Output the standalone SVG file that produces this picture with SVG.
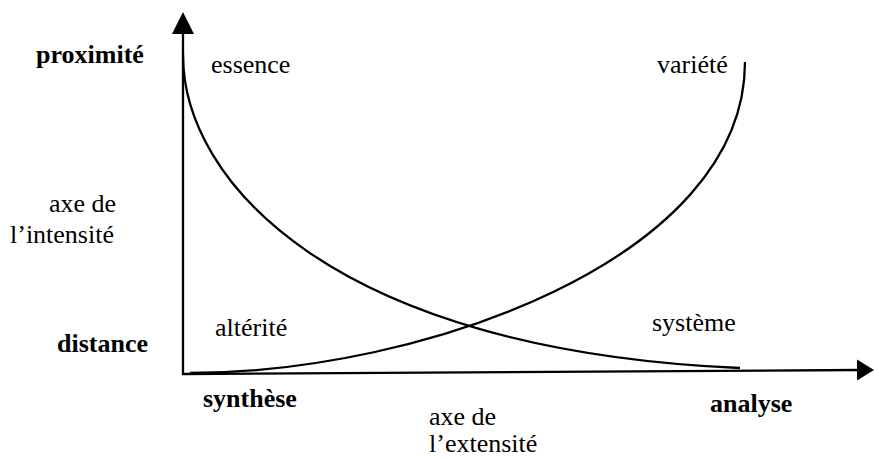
<svg xmlns="http://www.w3.org/2000/svg" width="874" height="459" viewBox="0 0 874 459">
<defs>
<style>
text{font-family:'Liberation Serif','DejaVu Serif',serif;font-size:26px;fill:#000}
.b{font-weight:bold}
.ln{fill:none;stroke:#000;stroke-width:2.3}
</style>
</defs>
<rect width="874" height="459" fill="#fff"/>
<g id="axes">
<line class="ln" x1="183" y1="375" x2="183" y2="30"/>
<polygon points="183,12 172,34 194,34" fill="#000"/>
<line class="ln" x1="182" y1="374" x2="860" y2="370"/>
<polygon points="874,370 857,359.5 857,380.5" fill="#000"/>
</g>
<g id="connectors">
<path id="curve-essence" class="ln" d="M183,55 C183,180 330,350 740,368"/>
<path id="curve-variete" class="ln" d="M190,373 C420,373 745,260 745,62"/>
</g>
<g id="labels" font-family="Liberation Serif, DejaVu Serif, serif">
<text class="b" x="36" y="63">proximité</text>
<text x="211" y="73">essence</text>
<text x="657" y="73">variété</text>
<text x="49" y="212">axe de</text>
<text x="10" y="243">l’intensité</text>
<text class="b" x="57" y="352">distance</text>
<text x="215" y="336">altérité</text>
<text x="652" y="331">système</text>
<text class="b" x="203" y="407">synthèse</text>
<text class="b" x="710" y="412">analyse</text>
<text x="429" y="425">axe de</text>
<text x="429" y="452">l’extensité</text>
</g>
</svg>
